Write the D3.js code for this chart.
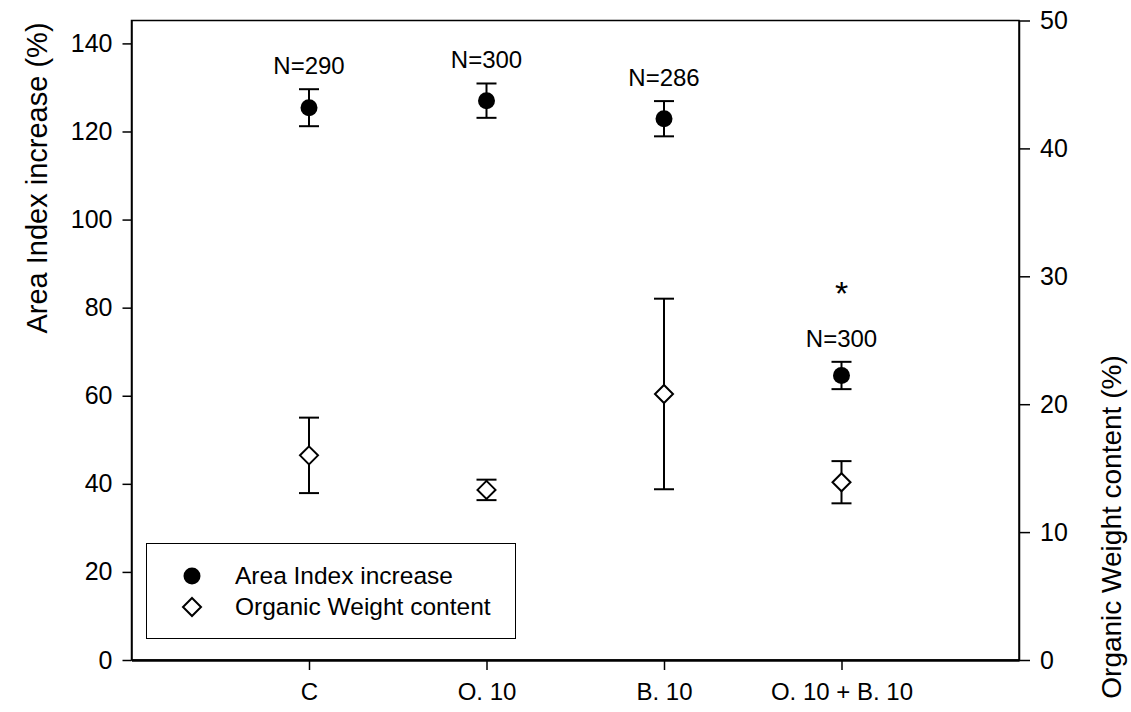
<!DOCTYPE html>
<html>
<head>
<meta charset="utf-8">
<script src="https://cdn.jsdelivr.net/npm/d3@7"></script>
<style>
  body { margin: 0; background: #fff; }
  text { font-family: "Liberation Sans", Arial, sans-serif; fill: #000; }
</style>
</head>
<body>
<div id="chart"></div>
<script>
"use strict";
var categories = ["C", "O. 10", "B. 10", "O. 10 + B. 10"];
var areaIndex = [125.4, 127.0, 122.9, 64.6];
var areaErr = [4.2, 3.9, 4.0, 3.1];
var organic = [16.0, 13.3, 20.8, 13.9];
var organicErr = [2.95, 0.8, 7.45, 1.65];
var nLabels = ["N=290", "N=300", "N=286", "N=300"];
var starred = [false, false, false, true];
var leftTicks = [0, 20, 40, 60, 80, 100, 120, 140];
var rightTicks = [0, 10, 20, 30, 40, 50];

(function () {
var width = 1131, height = 712;
var mLeft = 131.5, mRight = 1019, mTop = 20.5, mBottom = 660;

var svg = d3.select("#chart").append("svg")
    .attr("width", width)
    .attr("height", height);

var x = d3.scaleLinear().domain([0, 5]).range([mLeft, mRight]);
var yL = d3.scaleLinear().domain([0, 145.2]).range([mBottom, mTop]);
var yR = d3.scaleLinear().domain([0, 50]).range([mBottom, mTop]);

// frame
svg.append("rect")
    .attr("x", mLeft).attr("y", mTop)
    .attr("width", mRight - mLeft).attr("height", mBottom - mTop)
    .attr("fill", "none").attr("stroke", "#000").attr("stroke-width", 1.5);

var axL = svg.append("g").attr("transform", "translate(" + mLeft + ",0)")
    .call(d3.axisLeft(yL).tickValues(leftTicks).tickSize(9).tickPadding(10).tickSizeOuter(0));
var axR = svg.append("g").attr("transform", "translate(" + mRight + ",0)")
    .call(d3.axisRight(yR).tickValues(rightTicks).tickSize(11).tickPadding(10).tickSizeOuter(0));
var axB = svg.append("g").attr("transform", "translate(0," + mBottom + ")")
    .call(d3.axisBottom(x).tickValues([1, 2, 3, 4]).tickFormat(function (d) { return categories[d - 1]; })
        .tickSize(10).tickPadding(13).tickSizeOuter(0));

[axL, axR, axB].forEach(function (g) {
    g.select(".domain").attr("stroke", "#000").attr("stroke-width", 1.5);
    g.selectAll(".tick line").attr("stroke", "#000").attr("stroke-width", 1.5);
    g.selectAll(".tick text").style("font-size", "24px").attr("fill", "#000");
});
axL.selectAll(".tick text").style("font-size", "25px");
axR.selectAll(".tick text").style("font-size", "25px");
axB.select(".domain").attr("stroke-width", 2.5);

// axis titles
svg.append("text")
    .attr("transform", "translate(47,178) rotate(-90)")
    .attr("text-anchor", "middle")
    .style("font-size", "29px")
    .text("Area Index increase (%)");
svg.append("text")
    .attr("transform", "translate(1121,527) rotate(-90)")
    .attr("text-anchor", "middle")
    .style("font-size", "28px")
    .text("Organic Weight content (%)");

function errorBars(vals, errs, scale) {
    var g = svg.append("g").attr("stroke", "#000").attr("stroke-width", 2);
    vals.forEach(function (v, i) {
        var cx = x(i + 1);
        var hi = scale(v + errs[i]), lo = scale(v - errs[i]);
        g.append("line").attr("x1", cx).attr("x2", cx).attr("y1", hi).attr("y2", lo);
        g.append("line").attr("x1", cx - 10).attr("x2", cx + 10).attr("y1", hi).attr("y2", hi);
        g.append("line").attr("x1", cx - 10).attr("x2", cx + 10).attr("y1", lo).attr("y2", lo);
    });
}
errorBars(organic, organicErr, yR);
errorBars(areaIndex, areaErr, yL);

var diamond = function (cx, cy, r) {
    return "M" + cx + "," + (cy - r) + "L" + (cx + r) + "," + cy + "L" + cx + "," + (cy + r) + "L" + (cx - r) + "," + cy + "Z";
};

svg.append("g").selectAll("path")
    .data(organic)
    .enter()
    .append("path")
    .attr("d", function (d, i) { return diamond(x(i + 1), yR(d), 9); })
    .attr("fill", "#fff")
    .attr("stroke", "#000")
    .attr("stroke-width", 2);

svg.append("g").selectAll("circle")
    .data(areaIndex)
    .enter()
    .append("circle")
    .attr("cx", function (d, i) { return x(i + 1); })
    .attr("cy", function (d) { return yL(d); })
    .attr("r", 8.5)
    .attr("fill", "#000");

// N labels and significance star
svg.append("g").selectAll("text")
    .data(nLabels)
    .enter()
    .append("text")
    .attr("x", function (d, i) { return x(i + 1); })
    .attr("y", function (d, i) { return yL(areaIndex[i] + areaErr[i]) - 15; })
    .attr("text-anchor", "middle")
    .style("font-size", "24px")
    .text(function (d) { return d; });

var starIdx = [];
starred.forEach(function (s, i) { if (s) starIdx.push(i); });
svg.append("g").selectAll("text")
    .data(starIdx)
    .enter()
    .append("text")
    .attr("x", function (k) { return x(k + 1); })
    .attr("y", function (k) { return yL(areaIndex[k] + areaErr[k]) - 57; })
    .attr("text-anchor", "middle")
    .style("font-size", "34px")
    .text("*");

// legend
var legend = svg.append("g");
legend.append("rect")
    .attr("x", 146.5).attr("y", 543.5)
    .attr("width", 369).attr("height", 95)
    .attr("fill", "#fff").attr("stroke", "#000").attr("stroke-width", 1);
legend.append("circle").attr("cx", 192).attr("cy", 576).attr("r", 8.5).attr("fill", "#000");
legend.append("path").attr("d", diamond(192, 607, 9))
    .attr("fill", "#fff").attr("stroke", "#000").attr("stroke-width", 2);
legend.append("text").attr("x", 235).attr("y", 584).style("font-size", "24.5px").text("Area Index increase");
legend.append("text").attr("x", 235).attr("y", 615).style("font-size", "24.5px").text("Organic Weight content");
})();
</script>
</body>
</html>
